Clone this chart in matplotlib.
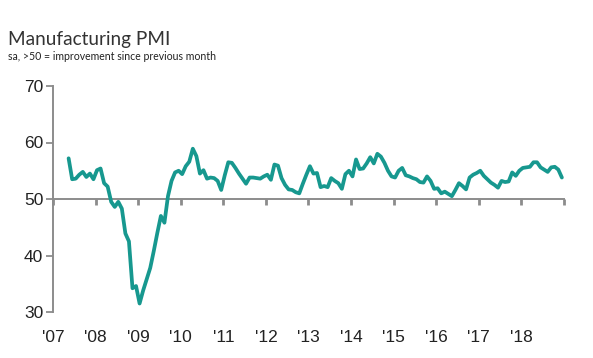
#!/usr/bin/env python3
import numpy as np
import matplotlib as mpl
import matplotlib.pyplot as plt

mpl.rcParams.update({
    "font.family": ["Liberation Sans", "DejaVu Sans"],
})

# Monthly PMI, May 2007 .. Dec 2018 (months counted from Jan 2007)
START_MONTH = 4
pmi = [
    # 2007 (May-Dec)
    57.2, 53.5, 53.6, 54.3, 54.8, 53.9, 54.5, 53.5,
    # 2008
    55.1, 55.4, 52.8, 52.2, 49.5, 48.6, 49.5, 48.3, 43.9, 42.5, 34.2, 34.6,
    # 2009
    31.5, 33.8, 35.8, 37.8, 40.8, 44.0, 47.0, 45.8, 50.5, 53.2, 54.7, 55.0,
    # 2010
    54.4, 55.8, 56.6, 58.9, 57.6, 54.5, 55.1, 53.6, 53.8, 53.7, 53.2, 51.6,
    # 2011
    54.2, 56.5, 56.4, 55.5, 54.5, 53.6, 52.7, 53.8, 53.8, 53.7, 53.6, 54.0,
    # 2012
    54.3, 53.4, 56.1, 55.9, 53.7, 52.5, 51.7, 51.6, 51.2, 51.0, 52.7, 54.3,
    # 2013
    55.8, 54.5, 54.6, 52.1, 52.3, 52.1, 53.7, 53.2, 52.8, 51.8, 54.4, 55.0,
    # 2014
    54.0, 57.0, 55.3, 55.4, 56.3, 57.4, 56.3, 58.0, 57.5, 56.4, 55.0, 54.0,
    # 2015
    53.8, 55.0, 55.5, 54.2, 54.0, 53.7, 53.5, 53.0, 52.9, 54.0, 53.2, 51.8,
    # 2016
    51.9, 51.0, 51.3, 50.9, 50.5, 51.6, 52.8, 52.3, 51.7, 53.8, 54.3, 54.6,
    # 2017
    55.0, 54.1, 53.5, 52.9, 52.5, 52.0, 53.2, 53.0, 53.1, 54.7, 54.1, 55.0,
    # 2018
    55.5, 55.6, 55.7, 56.5, 56.5, 55.6, 55.2, 54.8, 55.6, 55.7, 55.2, 53.8,
]

years = list(range(2007, 2020))
year_labels = ["'07", "'08", "'09", "'10", "'11", "'12", "'13",
               "'14", "'15", "'16", "'17", "'18"]
y_ticks = [30, 40, 50, 60, 70]

LINE_COLOR = "#17988f"
AXIS_COLOR = "#8c8c8c"


def main() -> None:
    fig = plt.figure(figsize=(5.93, 3.58), dpi=100)
    ax = fig.add_axes([53 / 593, 1 - 312 / 358, 511 / 593, 226 / 358])

    x = 2007 + (START_MONTH + np.arange(len(pmi)) + 0.4) / 12
    ax.plot(x, pmi, color=LINE_COLOR, lw=2.7, solid_joinstyle="round",
            solid_capstyle="round", zorder=3)

    ax.set_xlim(2007, 2019)
    ax.set_ylim(30, 70)

    # y axis
    ax.set_yticks(y_ticks)
    ax.tick_params(axis="y", length=5, width=1.3, color=AXIS_COLOR,
                   labelsize=12.5, labelcolor="#222222", pad=2)
    ax.spines["left"].set_color(AXIS_COLOR)
    ax.spines["left"].set_linewidth(1.4)

    # x axis line through 50 with year ticks
    ax.spines["bottom"].set_position(("data", 50))
    ax.spines["bottom"].set_color(AXIS_COLOR)
    ax.spines["bottom"].set_linewidth(1.4)
    ax.spines["top"].set_visible(False)
    ax.spines["right"].set_visible(False)
    ax.set_xticks(years)
    ax.tick_params(axis="x", length=4, width=2, color=AXIS_COLOR,
                   labelbottom=False)

    # year labels along the bottom
    sec = ax.secondary_xaxis(0)
    sec.set_xticks(years[:-1])
    sec.set_xticklabels(year_labels)
    sec.spines["bottom"].set_visible(False)
    sec.tick_params(axis="x", length=0, pad=13, labelsize=12.5,
                    labelcolor="#222222")

    fig.text(8 / 593, 1 - 45 / 358, "Manufacturing PMI", family="Lato",
             fontsize=13.7, color="#333333", ha="left", va="baseline")
    fig.text(8 / 593, 1 - 60 / 358, "sa, >50 = improvement since previous month",
             family="Lato", fontsize=7.6, color="#222222", ha="left",
             va="baseline")

    fig.savefig("out.png", dpi=100)


if __name__ == "__main__":
    main()
